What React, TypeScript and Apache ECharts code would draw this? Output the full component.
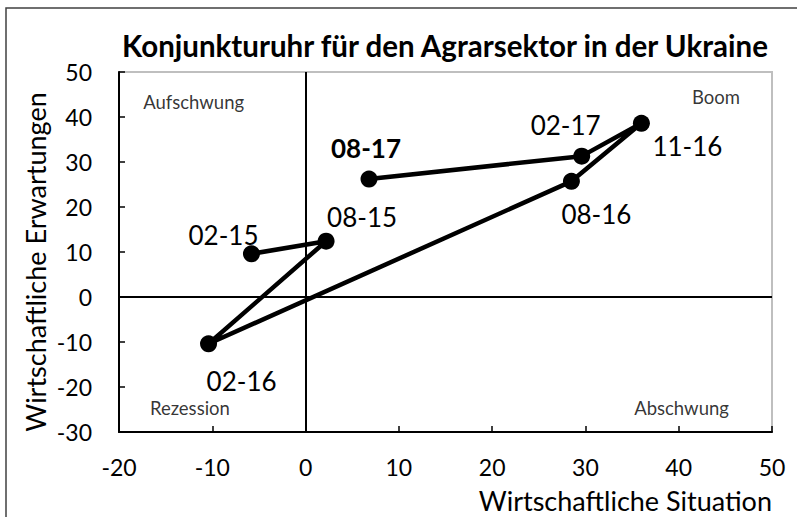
import React, { useEffect, useRef } from "react";
import * as echarts from "echarts";

const periods = ["02-15", "08-15", "02-16", "08-16", "11-16", "02-17", "08-17"];
const situation = [-5.8, 2.2, -10.4, 28.5, 36.0, 29.6, 6.8];
const expectations = [9.6, 12.4, -10.4, 25.7, 38.6, 31.3, 26.2];

const quadrantNames = ["Aufschwung", "Boom", "Rezession", "Abschwung"];
const quadrantX = [-12, 44, -12.4, 40.3];
const quadrantY = [43.3, 44.4, -24.7, -24.7];

const xTicks = { min: -20, max: 50, interval: 10 };
const yTicks = { min: -30, max: 50, interval: 10 };

const titleText = "Konjunkturuhr für den Agrarsektor in der Ukraine";
const xName = "Wirtschaftliche Situation";
const yName = "Wirtschaftliche Erwartungen";

// label offsets (style only)
const labelOffsets: number[][] = [
  [-28, -19],
  [36, -24],
  [33, 37],
  [25, 33],
  [46, 23],
  [-16, -31],
  [-3, -31],
];

const FONT = "Lato, 'Noto Sans', sans-serif";

export default function App() {
  const ref = useRef<HTMLDivElement>(null);
  useEffect(() => {
    if (!ref.current) return;
    const chart = echarts.init(ref.current, null, { renderer: "svg" });
    const lastIdx = periods.length - 1;
    chart.setOption({
      animation: false,
      backgroundColor: "#ffffff",
      textStyle: { fontFamily: FONT },
      grid: {
        left: 119,
        right: 25,
        top: 72,
        bottom: 85,
        show: true,
        borderColor: "#bfbfbf",
        borderWidth: 2,
      },
      graphic: [
        {
          type: "rect",
          shape: { x: 6, y: 8, width: 820, height: 540 },
          style: { fill: "none", stroke: "#404040", lineWidth: 1.5 },
          silent: true,
          z: -1,
        },
        {
          type: "text",
          x: 445,
          y: 45,
          style: {
            text: titleText,
            fontFamily: FONT,
            fontSize: 29.5,
            fontWeight: "bold",
            fill: "#000",
            align: "center",
            verticalAlign: "middle",
          },
        },
        {
          type: "text",
          x: 772,
          y: 500,
          style: {
            text: xName,
            fontFamily: FONT,
            fontSize: 27,
            fill: "#000",
            align: "right",
            verticalAlign: "middle",
          },
        },
        {
          type: "text",
          x: 35,
          y: 262,
          rotation: Math.PI / 2,
          style: {
            text: yName,
            fontFamily: FONT,
            fontSize: 27,
            fill: "#000",
            align: "center",
            verticalAlign: "middle",
          },
        },
      ],
      xAxis: {
        type: "value",
        min: xTicks.min,
        max: xTicks.max,
        interval: xTicks.interval,
        axisLine: { onZero: false, lineStyle: { color: "#000", width: 2 } },
        axisTick: { show: true, inside: true, length: 6, lineStyle: { color: "#000", width: 1.5 } },
        axisLabel: { color: "#000", fontSize: 23, fontFamily: FONT, margin: 23 },
        splitLine: { show: false },
      },
      yAxis: {
        type: "value",
        min: yTicks.min,
        max: yTicks.max,
        interval: yTicks.interval,
        axisLine: { onZero: false, lineStyle: { color: "#000", width: 2 } },
        axisTick: { show: true, inside: true, length: 6, lineStyle: { color: "#000", width: 1.5 } },
        axisLabel: { color: "#000", fontSize: 23, fontFamily: FONT, margin: 27 },
        splitLine: { show: false },
      },
      series: [
        {
          type: "line",
          data: periods.map((p, i) => ({
            name: p,
            value: [situation[i], expectations[i]],
            label: {
              show: true,
              position: "inside",
              offset: labelOffsets[i],
              formatter: p,
              fontSize: 26,
              fontFamily: FONT,
              fontWeight: i === lastIdx ? "bold" : "normal",
              color: "#000",
              align: "center",
              verticalAlign: "middle",
            },
          })),
          symbol: "circle",
          symbolSize: 17,
          itemStyle: { color: "#000" },
          lineStyle: { color: "#000", width: 4.5 },
          z: 3,
          markLine: {
            silent: true,
            symbol: ["none", "none"],
            label: { show: false },
            lineStyle: { color: "#000", width: 2, type: "solid" },
            data: [{ xAxis: 0 }, { yAxis: 0 }],
          },
        },
        {
          type: "scatter",
          symbolSize: 0,
          silent: true,
          data: quadrantNames.map((n, i) => ({
            name: n,
            value: [quadrantX[i], quadrantY[i]],
          })),
          label: {
            show: true,
            position: "inside",
            formatter: "{b}",
            fontSize: 18.5,
            fontFamily: FONT,
            color: "#000",
          },
        },
      ],
    });
    return () => chart.dispose();
  }, []);
  return (
    <div
      ref={ref}
      style={{ position: "fixed", left: 0, top: 0, width: 797, height: 517 }}
    />
  );
}
